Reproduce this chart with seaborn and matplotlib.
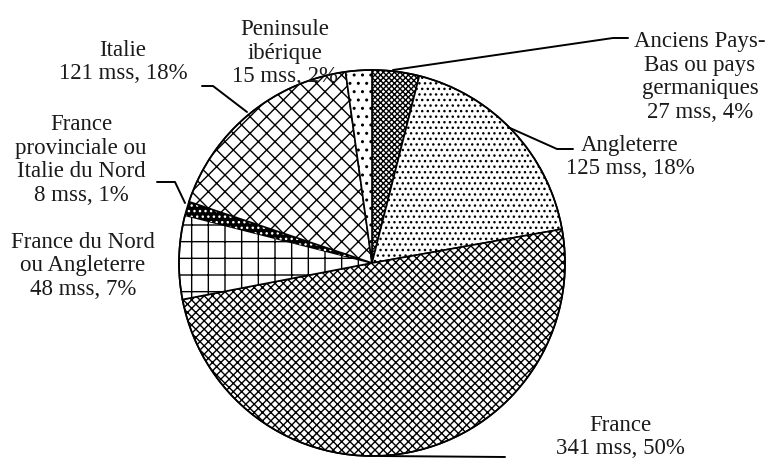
import numpy as np
import matplotlib.pyplot as plt
import seaborn as sns

sns.set_theme(style="white")
plt.rcParams["font.family"] = ["Liberation Serif", "DejaVu Serif"]
plt.rcParams["hatch.linewidth"] = 1.0

# data, clockwise from 12 o'clock
regions = [
    "Anciens Pays-\nBas ou pays\ngermaniques",
    "Angleterre",
    "France",
    "France du Nord\nou Angleterre",
    "France\nprovinciale ou\nItalie du Nord",
    "Italie",
    "Peninsule\nibérique",
]
counts = [27, 125, 341, 48, 8, 121, 15]
hatches = ["xxxxxx", "...", "xxxx", "+", "...", "xx", ".."]
faces = ["white", "white", "white", "white", "black", "white", "white"]

total = sum(counts)

# pixel layout of the reference (centre of pie and radius)
cx, cy, r = 372, 263, 193
W, H = 772, 458


def to_data(px, py):
    return (px - cx) / r, (cy - py) / r


fig = plt.figure(figsize=(7.72, 4.58), dpi=100)
ax = fig.add_axes([0, 0, 1, 1])

wedges, _ = ax.pie(
    counts,
    startangle=90,
    counterclock=False,
    radius=1,
    colors=faces,
    wedgeprops=dict(edgecolor="black", linewidth=1.2),
)
for w, h, fc in zip(wedges, hatches, faces):
    w.set_hatch(h)
    if fc == "black":
        w.set_edgecolor("white")
        w.set_linewidth(0)

# outline circle for the pie
ax.add_patch(plt.Circle((0, 0), 1, fill=False, edgecolor="black", linewidth=1.2))

ax.set_xlim(-cx / r, (W - cx) / r)
ax.set_ylim(-(H - cy) / r, cy / r)
ax.set_aspect("equal")
ax.axis("off")

# label block centres (pixels) and leader lines (pixels)
label_pos = [(700, 77), (630, 157), (620, 437), (83, 266), (81, 160), (123, 62), (285, 53)]
leaders = [
    [(393, 70), (613, 38), (628, 38)],
    [(510, 128), (557, 149), (573, 149)],
    [(380, 456), (505, 457)],
    None,
    [(185, 203), (175, 182), (157, 182)],
    [(247, 112), (213, 86), (202, 86)],
    None,
]

for name, n, pos, lead in zip(regions, counts, label_pos, leaders):
    pct = round(100 * n / total)
    x, y = to_data(*pos)
    ax.text(x, y, f"{name}\n{n} mss, {pct}%", ha="center", va="center",
            fontsize=16.5, linespacing=1.15, color="#1a1a1a")
    if lead:
        xs, ys = zip(*[to_data(px, py) for px, py in lead])
        ax.plot(xs, ys, color="black", linewidth=1.4)

fig.savefig("out.png", dpi=100)
